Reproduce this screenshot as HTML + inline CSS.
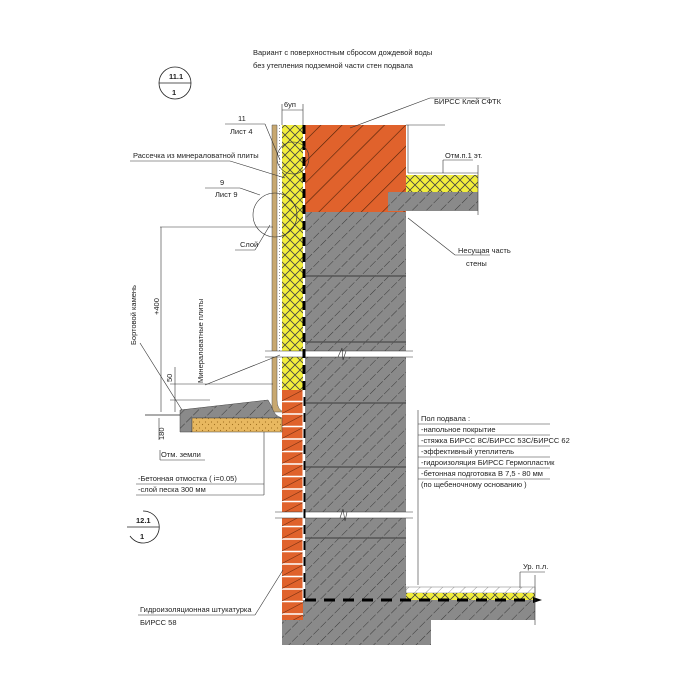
<!DOCTYPE html>
<html><head><meta charset="utf-8"><style>
html,body{margin:0;padding:0;background:#fff;width:700px;height:700px;overflow:hidden}
svg text{font-family:"Liberation Sans","DejaVu Sans",sans-serif;font-size:7.5px;fill:#222}
</style></head><body>
<svg width="700" height="700" viewBox="0 0 700 700" xmlns="http://www.w3.org/2000/svg">
<defs>
<pattern id="gr" patternUnits="userSpaceOnUse" width="10" height="10" patternTransform="rotate(45)">
<rect width="10" height="10" fill="#8a8a8a"/><line x1="0" y1="0" x2="0" y2="10" stroke="#3a3a3a" stroke-width="1" stroke-dasharray="7,2"/></pattern>
<pattern id="or" patternUnits="userSpaceOnUse" width="15" height="15" patternTransform="rotate(45)">
<rect width="15" height="15" fill="#e0622c"/><line x1="0" y1="0" x2="0" y2="15" stroke="#4a2008" stroke-width="1.2"/></pattern>
<pattern id="ye" patternUnits="userSpaceOnUse" width="10" height="10">
<rect width="10" height="10" fill="#f2ee3c"/><path d="M0 0L10 10M10 0L0 10" stroke="#444" stroke-width="0.8"/></pattern>
<pattern id="br" patternUnits="userSpaceOnUse" width="21" height="12.5" x="282" y="390">
<rect width="21" height="12.5" fill="#e0622c"/><line x1="0" y1="11.5" x2="21" y2="11.5" stroke="#fff" stroke-width="1.5"/><line x1="0" y1="11" x2="21" y2="0" stroke="#7a3010" stroke-width="0.6"/></pattern>
<pattern id="sa" patternUnits="userSpaceOnUse" width="6" height="6">
<rect width="6" height="6" fill="#e8b860"/><circle cx="1.5" cy="2" r="0.6" fill="#a07020"/><circle cx="4.5" cy="4.5" r="0.6" fill="#a07020"/></pattern>
<pattern id="wh" patternUnits="userSpaceOnUse" width="8" height="8" patternTransform="rotate(45)">
<rect width="8" height="8" fill="#fff"/><line x1="0" y1="0" x2="0" y2="8" stroke="#555" stroke-width="0.6"/></pattern>
</defs>

<text x="253" y="55" font-size="8">Вариант с поверхностным сбросом дождевой воды</text>
<text x="253" y="68" font-size="8">без утепления подземной части стен подвала</text>

<circle cx="175" cy="83" r="16" fill="none" stroke="#222" stroke-width="0.8"/>
<line x1="159" y1="83" x2="191" y2="83" stroke="#222" stroke-width="0.8"/>
<text x="169" y="79" font-size="9" font-weight="bold">11.1</text><text x="172" y="95" font-size="9" font-weight="bold">1</text>
<path d="M143 511 A16 16 0 1 1 130 536" fill="none" stroke="#222" stroke-width="0.8"/>
<line x1="127" y1="527" x2="159" y2="527" stroke="#222" stroke-width="0.8"/>
<text x="136" y="523" font-size="9" font-weight="bold">12.1</text><text x="140" y="539" font-size="9" font-weight="bold">1</text>

<rect x="305" y="211" width="101" height="389" fill="url(#gr)"/>
<rect x="305" y="125" width="101" height="87" fill="url(#or)"/>
<rect x="388" y="192" width="90" height="19" fill="url(#gr)"/>
<rect x="406" y="175" width="72" height="17" fill="url(#ye)"/>
<rect x="282" y="125" width="21" height="265" fill="url(#ye)"/>
<rect x="277" y="125" width="5" height="265" fill="#fff"/>
<line x1="279.5" y1="125" x2="279.5" y2="390" stroke="#999" stroke-width="1" stroke-dasharray="1,2"/>
<path d="M272 125 H277 V400 Q277 410 284 412 H272 Z" fill="#c8a870" stroke="#555" stroke-width="0.5"/>
<rect x="282" y="390" width="21" height="230" fill="url(#br)"/>
<g stroke="#555" stroke-width="1.5"><line x1="305" y1="276" x2="406" y2="276"/><line x1="305" y1="342" x2="406" y2="342"/><line x1="305" y1="403" x2="406" y2="403"/><line x1="305" y1="467" x2="406" y2="467"/><line x1="305" y1="538" x2="406" y2="538"/></g>
<rect x="265" y="351" width="148" height="6" fill="#fff"/>
<line x1="265" y1="351" x2="413" y2="351" stroke="#333" stroke-width="0.6"/><line x1="265" y1="357" x2="413" y2="357" stroke="#333" stroke-width="0.6"/>
<path d="M338 357 L342 348 L343 360 L346 351" fill="none" stroke="#333" stroke-width="0.6"/>
<rect x="275" y="512" width="138" height="6" fill="#fff"/>
<line x1="275" y1="512" x2="413" y2="512" stroke="#333" stroke-width="0.6"/><line x1="275" y1="518" x2="413" y2="518" stroke="#333" stroke-width="0.6"/>
<path d="M340 518 L343 509 L345 521 L347 512" fill="none" stroke="#333" stroke-width="0.6"/>
<rect x="303" y="600" width="232" height="20" fill="url(#gr)"/>
<rect x="282" y="620" width="149" height="25" fill="url(#gr)"/>
<rect x="406" y="587" width="129" height="6" fill="url(#wh)" stroke="#555" stroke-width="0.4"/>
<rect x="406" y="593" width="129" height="7" fill="url(#ye)"/>
<line x1="304" y1="125" x2="304" y2="600" stroke="#000" stroke-width="3" stroke-dasharray="9,7"/>
<line x1="305" y1="600" x2="533" y2="600" stroke="#000" stroke-width="3" stroke-dasharray="11,8"/>
<path d="M533 597 L542 600 L533 603Z" fill="#000"/>
<line x1="303" y1="390" x2="303" y2="600" stroke="#fff" stroke-width="1"/>
<path d="M180 410 L268 400 L272 407 Q274 416 282 418 L192 418 L192 432 L180 432Z" fill="url(#gr)" stroke="#444" stroke-width="0.5"/>
<rect x="192" y="418" width="90" height="14" fill="url(#sa)" stroke="#444" stroke-width="0.5"/>
<line x1="145" y1="415" x2="180" y2="415" stroke="#222" stroke-width="0.8"/>

<g stroke="#333" stroke-width="0.6" fill="none">
<line x1="406" y1="125" x2="445" y2="125"/><line x1="408" y1="125" x2="408" y2="173"/><line x1="408" y1="173" x2="478" y2="173"/>
<line x1="478" y1="165" x2="478" y2="215"/>
<line x1="282" y1="110" x2="303" y2="110"/><line x1="282" y1="104" x2="282" y2="125"/><line x1="303" y1="104" x2="303" y2="125"/>
<line x1="350" y1="128" x2="430" y2="98"/><line x1="430" y1="98" x2="490" y2="98"/>
<line x1="443" y1="160" x2="473" y2="160"/><line x1="443" y1="160" x2="443" y2="173"/>
<line x1="408" y1="218" x2="455" y2="255"/><line x1="455" y1="255" x2="490" y2="255"/>
<line x1="225" y1="124" x2="265" y2="124"/><line x1="265" y1="124" x2="280" y2="160"/>
<line x1="130" y1="161" x2="230" y2="161"/><line x1="230" y1="161" x2="285" y2="178"/>
<line x1="205" y1="188" x2="240" y2="188"/><line x1="240" y1="188" x2="260" y2="195"/>
<circle cx="293" cy="158" r="16"/><circle cx="275" cy="215" r="22"/>
<line x1="235" y1="250" x2="255" y2="250"/><line x1="255" y1="250" x2="270" y2="225"/>
<line x1="160" y1="227" x2="273" y2="227"/><line x1="161" y1="227" x2="161" y2="412"/>
<line x1="140" y1="343" x2="182" y2="410"/>
<line x1="205" y1="385" x2="280" y2="355"/>
<line x1="170" y1="384" x2="273" y2="384"/><line x1="175" y1="367" x2="175" y2="412"/>
<line x1="170" y1="400" x2="210" y2="400"/><line x1="159" y1="418" x2="159" y2="440"/>
<line x1="160" y1="450" x2="160" y2="460"/><line x1="160" y1="460" x2="205" y2="460"/>
<line x1="136" y1="484" x2="264" y2="484"/><line x1="136" y1="495" x2="264" y2="495"/><line x1="264" y1="432" x2="264" y2="495"/>
<line x1="418" y1="410" x2="418" y2="585"/>
<line x1="418" y1="424" x2="550" y2="424"/><line x1="418" y1="435" x2="550" y2="435"/><line x1="418" y1="446" x2="550" y2="446"/><line x1="418" y1="457" x2="550" y2="457"/><line x1="418" y1="468" x2="550" y2="468"/><line x1="418" y1="479" x2="550" y2="479"/>
<line x1="520" y1="572" x2="545" y2="572"/><line x1="520" y1="572" x2="520" y2="588"/><line x1="535" y1="575" x2="535" y2="625"/>
<line x1="138" y1="615" x2="255" y2="615"/><line x1="255" y1="615" x2="283" y2="570"/>
</g>
<text x="284" y="107" font-size="7">6уп</text>
<text x="434" y="104">БИРСС Клей СФТК</text>
<text x="445" y="158">Отм.п.1 эт.</text>
<text x="458" y="253">Несущая часть</text>
<text x="466" y="266">стены</text>
<text x="238" y="121">11</text><text x="230" y="134">Лист 4</text>
<text x="133" y="158">Рассечка из минераловатной плиты</text>
<text x="220" y="185">9</text><text x="215" y="197">Лист 9</text>
<text x="240" y="247">Слой</text>
<text transform="translate(136,345) rotate(-90)">Бортовой камень</text>
<text transform="translate(159,315) rotate(-90)">+400</text>
<text transform="translate(203,383) rotate(-90)">Минераловатные плиты</text>
<text transform="translate(172,382) rotate(-90)">50</text>
<text transform="translate(164,440) rotate(-90)">180</text>
<text x="161" y="457">Отм. земли</text>
<text x="138" y="481">-Бетонная отмостка ( i=0.05)</text>
<text x="138" y="492">-слой песка 300 мм</text>
<text x="421" y="421">Пол подвала :</text>
<text x="421" y="432">-напольное покрытие</text>
<text x="421" y="443">-стяжка БИРСС 8С/БИРСС 53С/БИРСС 62</text>
<text x="421" y="454">-эффективный утеплитель</text>
<text x="421" y="465">-гидроизоляция БИРСС Гермопластик</text>
<text x="421" y="476">-бетонная подготовка В 7,5 - 80 мм</text>
<text x="421" y="487">(по щебеночному основанию )</text>
<text x="523" y="569">Ур. п.л.</text>
<text x="140" y="612">Гидроизоляционная штукатурка</text>
<text x="140" y="625">БИРСС 58</text>
</svg>
</body></html>
